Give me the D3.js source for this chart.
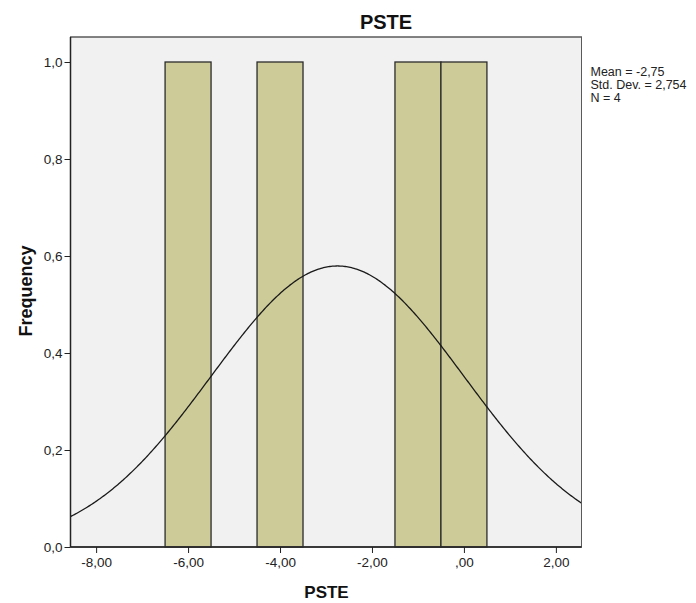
<!DOCTYPE html>
<html><head><meta charset="utf-8">
<script src="https://cdn.jsdelivr.net/npm/d3@7"></script>
<style>body{margin:0;background:#fff}svg{display:block;font-family:"Liberation Sans",Arial,sans-serif}</style>
</head><body><svg id="c" width="696" height="603"></svg>
<script>
const binStarts = [-6.5, -4.5, -1.5, -0.5];
const binCounts = [1, 1, 1, 1];
const binWidth = 1;
const xTicks = [-8, -6, -4, -2, 0, 2];
const xTickLabels = ["-8,00", "-6,00", "-4,00", "-2,00", ",00", "2,00"];
const yTicks = [0, 0.2, 0.4, 0.6, 0.8, 1.0];
const yTickLabels = ["0,0", "0,2", "0,4", "0,6", "0,8", "1,0"];
const statMean = -2.75, statSD = 2.754, statN = 4;
const statLines = ["Mean = -2,75", "Std. Dev. = 2,754", "N = 4"];

const svg = d3.select("#c");
const L = 70.5, R = 581.5, T = 37, B = 547;
const x = d3.scaleLinear().domain([-8.557, 2.557]).range([L, R]);
const y = d3.scaleLinear().domain([0, 1]).range([B, 62]);

svg.append("rect").attr("x", L).attr("y", T).attr("width", R - L).attr("height", B - T)
  .attr("fill", "#f0f1f0").attr("stroke", "#5a5a5a").attr("stroke-width", 1);

// bars
svg.selectAll("rect.bar").data(binStarts).join("rect").attr("class", "bar")
  .attr("x", d => x(d)).attr("width", d => x(d + binWidth) - x(d))
  .attr("y", (d, i) => y(binCounts[i])).attr("height", (d, i) => B - y(binCounts[i]))
  .attr("fill", "#cdcb98").attr("stroke", "#2b2b2b").attr("stroke-width", 1.3);

// normal curve
const pts = d3.range(0, 401).map(i => {
  const v = x.domain()[0] + (x.domain()[1] - x.domain()[0]) * i / 400;
  const f = statN * binWidth / (statSD * Math.sqrt(2 * Math.PI)) * Math.exp(-0.5 * ((v - statMean) / statSD) ** 2);
  return [v, f];
});
svg.append("path").datum(pts)
  .attr("d", d3.line().x(d => x(d[0])).y(d => y(d[1])))
  .attr("fill", "none").attr("stroke", "#1a1a1a").attr("stroke-width", 1.3);

// frame on top
svg.append("rect").attr("x", L).attr("y", T).attr("width", R - L).attr("height", B - T)
  .attr("fill", "none").attr("stroke", "#5a5a5a").attr("stroke-width", 1);
svg.append("line").attr("x1", L).attr("x2", R).attr("y1", B).attr("y2", B).attr("stroke", "#222").attr("stroke-width", 1.5);
svg.append("line").attr("x1", L).attr("x2", L).attr("y1", T).attr("y2", B).attr("stroke", "#222").attr("stroke-width", 1.5);

// axes
const yAxis = d3.axisLeft(y).tickValues(yTicks).tickFormat((d, i) => yTickLabels[i]).tickSize(6).tickPadding(2);
const gy = svg.append("g").attr("transform", `translate(${L},0)`).call(yAxis);
gy.select(".domain").remove();
gy.selectAll("line").attr("stroke", "#222");
gy.selectAll("text").attr("font-size", 13.5).attr("fill", "#222").attr("font-family", "Liberation Sans, Arial, sans-serif");

const xAxis = d3.axisBottom(x).tickValues(xTicks).tickFormat((d, i) => xTickLabels[i]).tickSize(6).tickPadding(4);
const gx = svg.append("g").attr("transform", `translate(0,${B})`).call(xAxis);
gx.select(".domain").remove();
gx.selectAll("line").attr("stroke", "#222");
gx.selectAll("text").attr("font-size", 13.5).attr("fill", "#222").attr("font-family", "Liberation Sans, Arial, sans-serif");

// titles
svg.append("text").attr("x", 386).attr("y", 28.5).attr("text-anchor", "middle")
  .attr("font-size", 20).attr("font-weight", "bold").attr("fill", "#111").text("PSTE");
svg.append("text").attr("x", 326.5).attr("y", 598).attr("text-anchor", "middle")
  .attr("font-size", 17).attr("font-weight", "bold").attr("fill", "#111").text("PSTE");
svg.append("text").attr("transform", "translate(31.5,291) rotate(-90)").attr("text-anchor", "middle")
  .attr("font-size", 18).attr("font-weight", "bold").attr("fill", "#111").text("Frequency");

// stats
svg.selectAll("text.stat").data(statLines).join("text").attr("class", "stat")
  .attr("x", 590.5).attr("y", (d, i) => 76 + i * 13)
  .attr("font-size", 12.5).attr("fill", "#222").text(d => d);
</script></body></html>
